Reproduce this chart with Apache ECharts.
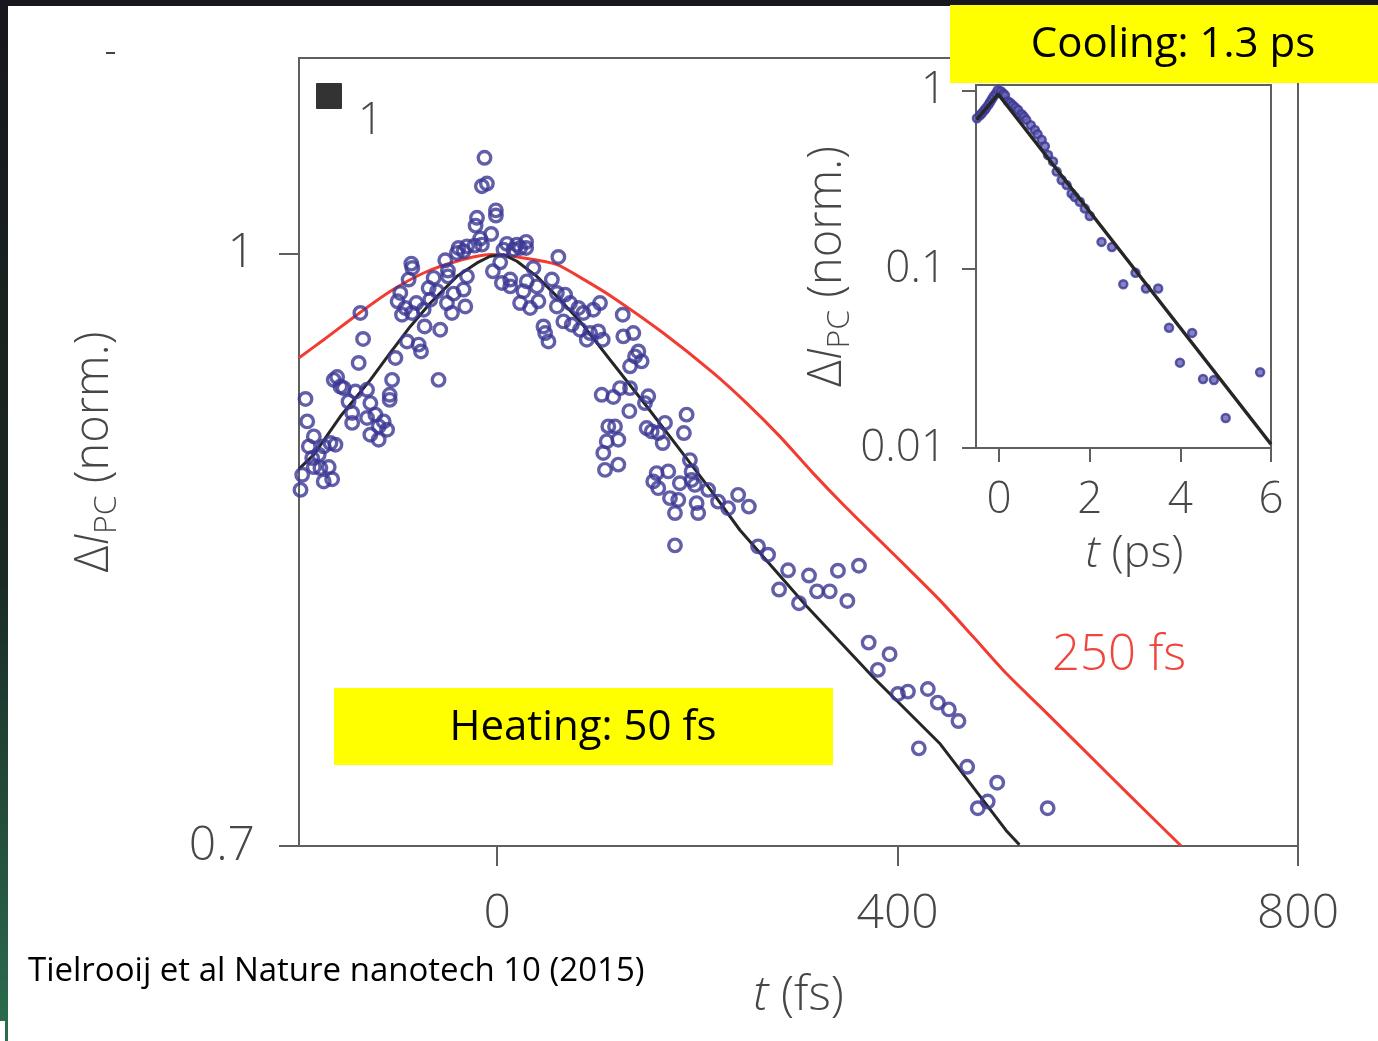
<!DOCTYPE html>
<html>
<head>
<meta charset="utf-8">
<script src="https://cdn.jsdelivr.net/npm/echarts@6/dist/echarts.min.js"></script>
<style>
    html, body { margin: 0; padding: 0; background: #fff; }
    #chart { width: 1378px; height: 1041px; }
</style>
</head>
<body>
<div id="chart"></div>
<script>
    // 主图数据: t (fs), ΔI_PC (norm.)
    const heatPoints = [
        [-12.7,1.0594],[-15.3,1.0414],[-10.3,1.0431],[-1.3,1.0264],[-1.3,1.0232],[-20.2,1.0218],[-21.6,1.0170],
        [-6,1.0119],[-17,1.0091],[-38.6,1.0034],[-30.2,1.0044],[-22.6,1.0048],[-15.3,1.0054],[-40.2,1.0004],
        [-33.6,1.0014],[9.7,1.0059],[19.7,1.0054],[28.9,1.0071],[28.9,1.0034],[6.3,1.0024],[16.3,1.0024],
        [22.9,1.0034],[-51.9,0.9960],[-85.8,0.9940],[-84.8,0.9914],[3,0.9948],[61.1,0.9980],[36.2,0.9914],
        [-49.2,0.9898],[-49.2,0.9864],[-4.3,0.9894],[-30.2,0.9864],[-88.5,0.9845],[-63.5,0.9855],[4.7,0.9825],
        [13,0.9845],[13,0.9805],[29.6,0.9834],[39.6,0.9805],[54.6,0.9845],[-96.8,0.9766],[-99.5,0.9717],
        [-91.8,0.9678],[-95.1,0.9639],[-68.5,0.9795],[-60.1,0.9776],[-66.8,0.9727],[-43.6,0.9762],[-33.6,0.9786],
        [-50.2,0.9707],[-31.9,0.9687],[-45.2,0.9649],[26.2,0.9776],[22.9,0.9707],[32.9,0.9678],[41.2,0.9717],
        [59.6,0.9766],[67.8,0.9756],[72.8,0.9707],[81.1,0.9678],[86.1,0.9649],[59.6,0.9687],[66.1,0.9600],
        [74.5,0.9581],[82.8,0.9552],[92.8,0.9533],[101,0.9542],[102.7,0.9707],[96.1,0.9668],[46.2,0.9571],
        [47.9,0.9533],[51.2,0.9485],[105.4,0.9495],[89.5,0.9495],[-80.8,0.9707],[-85.1,0.9649],[-73.5,0.9668],
        [-72.5,0.9571],[-56.9,0.9552],[-136.7,0.9649],[-101.7,0.9391],[-134,0.9499],[-90.1,0.9485],[-78.5,0.9467],
        [-76.1,0.9428],[-138.4,0.9363],[-159.9,0.9284],[-105,0.9268],[-58.6,0.9268],[-153.3,0.9222],[-141.6,0.9203],
        [-130,0.9213],[-107.4,0.9185],[-191.5,0.9162],[104.4,0.9185],[-163.3,0.9268],[-156.6,0.9231],
        [-107.4,0.9157],[-148.5,0.9148],[-126.7,0.9139],[-189.8,0.9039],[-144.9,0.9085],[-144.9,0.9031],
        [-130,0.9058],[-121.7,0.9076],[-113.4,0.9039],[-118.4,0.9012],[-110,0.8994],[-126.7,0.8967],[-118.4,0.8940],
        [-183.2,0.8958],[-188.2,0.8904],[-166.6,0.8922],[-161.6,0.8913],[-173.3,0.8904],[-178.3,0.8860],
        [-184.8,0.8842],[-183.2,0.8794],[-176.6,0.8789],[-168.3,0.8794],[-194.8,0.8753],[-173.3,0.8718],
        [-164.9,0.8730],[-196.5,0.8674],[111,0.9012],[109.4,0.8931],[106,0.8869],[107.7,0.8779],
        [125.4,0.9639],[126,0.9514],[136,0.9533],[141,0.9428],[137.7,0.9400],[144.3,0.9372],[132.7,0.9344],
        [116,0.9173],[122.7,0.9222],[132.7,0.9222],[150.9,0.9177],[147.6,0.9139],[132,0.9095],[189.2,0.9076],
        [117.7,0.9012],[149.3,0.9003],[154.3,0.8985],[160.9,0.8976],[167.6,0.9031],[165.3,0.8922],[186.5,0.8976],
        [121,0.8940],[121,0.8807],[192.5,0.8831],[194.2,0.8771],[159.3,0.8762],[170.9,0.8771],[155.9,0.8718],
        [160.9,0.8683],[182.5,0.8709],[194.2,0.8726],[197.5,0.8700],[172.6,0.8631],[180.9,0.8622],[177.6,0.8554],
        [199.2,0.8605],[200.8,0.8554],[210.8,0.8674],[220.7,0.8613],[230.7,0.8579],[240.7,0.8648],[251.4,0.8587],
        [177.6,0.8389],[260.6,0.8384],[270.6,0.8342],[290.6,0.8264],[311.5,0.8238],[340.4,0.8262],[361.4,0.8287],
        [281.6,0.8169],[301.5,0.8102],[319.5,0.8160],[332.2,0.8160],[349.8,0.8113],[371.1,0.7912],[392,0.7857],
        [380.3,0.7783],[400.3,0.7671],[410.3,0.7682],[430.2,0.7694],[440.2,0.7631],[451.2,0.7600],[460.8,0.7547],
        [421.2,0.7424],[469.5,0.7342],[499.5,0.7272],[480.1,0.7161],[490,0.7190],[549.9,0.7161]
    ];
    // 拟合曲线 (黑)
    const fitLine = [
        [-198.2,0.8783],[-183.2,0.8860],[-156.6,0.9067],[-126.7,0.9268],[-106.7,0.9421],[-86.8,0.9571],
        [-66.8,0.9707],[-40.2,0.9864],[-20.2,0.9944],[-7,0.9984],[6.3,0.9994],[19.7,0.9954],[39.6,0.9864],
        [59.6,0.9746],[82.8,0.9600],[112.7,0.9381],[149.3,0.9122],[182.5,0.8887],[215.8,0.8656],[242.4,0.8467],
        [308.9,0.8088],[375.4,0.7750],[441.9,0.7447],[508.4,0.7066],[521.7,0.7005]
    ];
    // 250 fs 曲线 (红)
    const slowLine = [
        [-198.2,0.9391],[-173.3,0.9495],[-140,0.9639],[-106.7,0.9776],[-73.5,0.9884],[-40.2,0.9954],[-7,0.9994],
        [26.2,0.9974],[59.6,0.9934],[88,0.9840],[116,0.9738],[165.9,0.9533],[215.8,0.9307],[249.1,0.9139],
        [282.3,0.8958],[315.5,0.8762],[348.8,0.8581],[382,0.8414],[408.7,0.8282],[441.9,0.8118],[475.1,0.7942],
        [508.4,0.7767],[541.6,0.7616],[581.5,0.7437],[631,0.7220],[683.3,0.7000]
    ];
    // 插图数据: t (ps)
    const coolPoints = [
        [-0.49,0.698],[-0.42,0.725],[-0.38,0.744],[-0.33,0.77],[-0.29,0.793],[-0.24,0.826],[-0.2,0.857],
        [-0.16,0.89],[-0.12,0.926],[-0.07,0.96],[-0.03,1.0],[0.04,0.987],[0.09,0.96],[0.13,0.938],[0.2,0.865],
        [0.25,0.85],[0.3,0.824],[0.36,0.80],[0.42,0.776],[0.5,0.734],[0.55,0.71],[0.6,0.683],[0.7,0.637],
        [0.79,0.600],[0.85,0.568],[0.94,0.528],[1.01,0.486],[1.08,0.435],[1.19,0.400],[1.27,0.351],[1.38,0.315],
        [1.49,0.295],[1.6,0.265],[1.67,0.253],[1.78,0.238],[1.89,0.218],[2.0,0.198],[2.26,0.142],[2.49,0.133],
        [2.74,0.0824],[3.01,0.0953],[3.24,0.078],[3.51,0.078],[3.75,0.047],[3.99,0.030],[4.26,0.044],
        [4.5,0.0243],[4.74,0.024],[5.0,0.0147],[5.76,0.0265]
    ];
    const coolFit = [[-0.5,0.683],[-0.02,0.95],[6,0.0105]];

    // 刻度
    const mainXTicks = [0, 400, 800];
    const mainYTicks = [0.7, 1];
    const insetXTicks = [0, 2, 4, 6];
    const insetYTicks = [0.01, 0.1, 1];

    let font = 'Open Sans';
    let axisGrey = '#5f5f5f';
    let labelGrey = '#474747';
    let dotColor = '#3b3794';

    let myChart = echarts.init(document.getElementById('chart'));

    let nameRich = function (size) {
        return {
            i: {fontStyle: 'italic', fontSize: size, fontFamily: font, fontWeight: 300, color: labelGrey, lineHeight: size + 10},
            s: {fontSize: size * 0.68, fontFamily: font, fontWeight: 300, color: labelGrey, verticalAlign: 'bottom', lineHeight: size + 10},
            n: {fontSize: size, fontFamily: font, fontWeight: 300, color: labelGrey, lineHeight: size + 10}
        };
    };

    let option = {
        animation: false,
        backgroundColor: '#fff',
        grid: [
            {left: 299, top: 58, right: 80, bottom: 195, outerBoundsMode: 'none', containLabel: false,
                show: true, borderColor: axisGrey, borderWidth: 2},
            {left: 976, top: 85, right: 107, bottom: 593, outerBoundsMode: 'none', containLabel: false,
                show: true, borderColor: axisGrey, borderWidth: 2, backgroundColor: '#fff'}
        ],
        xAxis: [
            {
                gridIndex: 0, type: 'value', min: -198, max: 800,
                splitLine: {show: false},
                axisLine: {onZero: false, lineStyle: {color: axisGrey, width: 2}},
                axisTick: {customValues: mainXTicks, length: 20, lineStyle: {color: axisGrey, width: 2}},
                axisLabel: {customValues: mainXTicks, fontSize: 48, fontFamily: font, fontWeight: 300, color: labelGrey, margin: 44},
                name: '{i|t}{n| (fs)}', nameLocation: 'middle', nameGap: 121,
                nameTextStyle: {rich: nameRich(48)}
            },
            {
                gridIndex: 1, type: 'value', min: -0.51, max: 6,
                splitLine: {show: false},
                axisLine: {onZero: false, lineStyle: {color: axisGrey, width: 2}},
                axisTick: {customValues: insetXTicks, length: 14, lineStyle: {color: axisGrey, width: 2}},
                axisLabel: {customValues: insetXTicks, fontSize: 44, fontFamily: font, fontWeight: 300, color: labelGrey, margin: 30},
                name: '{i|t}{n| (ps)}', nameLocation: 'middle', nameGap: 79,
                nameTextStyle: {rich: nameRich(45), padding: [0, 0, 0, 22]}
            }
        ],
        yAxis: [
            {
                gridIndex: 0, type: 'log', logBase: 10, min: 0.7, max: 1.125,
                splitLine: {show: false},
                axisLine: {onZero: false, lineStyle: {color: axisGrey, width: 2}},
                axisTick: {customValues: mainYTicks, length: 20, lineStyle: {color: axisGrey, width: 2}},
                axisLabel: {customValues: mainYTicks, fontSize: 48, fontFamily: font, fontWeight: 300, color: labelGrey, margin: 44},
                name: '{n|Δ}{i|I}{s|PC}{n| (norm.)}', nameLocation: 'middle', nameGap: 176, nameRotate: 90,
                nameTextStyle: {rich: nameRich(47)}
            },
            {
                gridIndex: 1, type: 'log', logBase: 10, min: 0.01, max: 1.07,
                splitLine: {show: false},
                axisLine: {onZero: false, lineStyle: {color: axisGrey, width: 2}},
                axisTick: {customValues: insetYTicks, length: 14, lineStyle: {color: axisGrey, width: 2}},
                axisLabel: {customValues: insetYTicks, fontSize: 44, fontFamily: font, fontWeight: 300, color: labelGrey, margin: 30},
                name: '{n|Δ}{i|I}{s|PC}{n| (norm.)}', nameLocation: 'middle', nameGap: 115, nameRotate: 90,
                nameTextStyle: {rich: nameRich(47)}
            }
        ],
        series: [
            {
                type: 'line', xAxisIndex: 0, yAxisIndex: 0, data: slowLine, showSymbol: false, smooth: 0.25,
                lineStyle: {color: '#f23b31', width: 3}, z: 2
            },
            {
                type: 'line', xAxisIndex: 0, yAxisIndex: 0, data: fitLine, showSymbol: false,
                lineStyle: {color: '#262626', width: 3}, z: 2
            },
            {
                type: 'scatter', xAxisIndex: 0, yAxisIndex: 0, data: heatPoints,
                symbol: 'circle', symbolSize: 12.5,
                itemStyle: {color: 'rgba(0,0,0,0)', borderColor: dotColor, borderWidth: 3.4}, z: 3
            },
            {
                type: 'scatter', xAxisIndex: 1, yAxisIndex: 1, data: coolPoints,
                symbol: 'circle', symbolSize: 8,
                itemStyle: {color: '#6764b4', borderColor: dotColor, borderWidth: 2.5}, z: 3
            },
            {
                type: 'line', xAxisIndex: 1, yAxisIndex: 1, data: coolFit, showSymbol: false,
                lineStyle: {color: '#262626', width: 3.5}, z: 4
            }
        ],
        graphic: [
            // 外框
            {type: 'rect', left: 0, top: 0, shape: {width: 1378, height: 6}, style: {fill: '#17171d'}, z: 100},
            {
                type: 'rect', left: 0, top: 0, shape: {width: 8, height: 1041}, z: 100,
                style: {
                    fill: new echarts.graphic.LinearGradient(0, 0, 0, 1, [
                        {offset: 0, color: '#17171d'}, {offset: 0.55, color: '#1a2a24'}, {offset: 1, color: '#2b6d4f'}
                    ])
                }
            },
            {type: 'rect', left: 0, top: 1021, shape: {width: 5, height: 20}, style: {fill: '#fff'}, z: 101},
            {type: 'rect', left: 106, top: 52, shape: {width: 9, height: 2}, style: {fill: '#444'}, z: 100},
            // 面板标记
            {type: 'rect', left: 316, top: 83, shape: {width: 26, height: 26, r: 1}, style: {fill: '#333'}, z: 100},
            {type: 'text', left: 358, top: 99, style: {text: '1', fontSize: 44, fontFamily: font, fontWeight: 300, fill: labelGrey}, z: 100},
            // 黄色标注
            {type: 'rect', left: 334, top: 688, shape: {width: 499, height: 77}, style: {fill: '#ffff00'}, z: 100},
            {
                type: 'text', x: 583, y: 728, z: 101,
                style: {text: 'Heating: 50 fs', fontSize: 42, fontFamily: font, fill: '#000', align: 'center', verticalAlign: 'middle'}
            },
            {type: 'rect', left: 950, top: 5, shape: {width: 428, height: 78}, style: {fill: '#ffff00'}, z: 100},
            {
                type: 'text', x: 1173, y: 45, z: 101,
                style: {text: 'Cooling: 1.3 ps', fontSize: 42, fontFamily: font, fill: '#000', align: 'center', verticalAlign: 'middle'}
            },
            {type: 'text', left: 1052, top: 632, style: {text: '250 fs', fontSize: 49, fontFamily: font, fontWeight: 300, fill: '#f0453c'}, z: 100},
            {type: 'text', left: 28, top: 955, style: {text: 'Tielrooij et al Nature nanotech 10 (2015)', fontSize: 33, fontFamily: font, fill: '#000'}, z: 100}
        ]
    };

    myChart.setOption(option);
</script>
</body>
</html>
